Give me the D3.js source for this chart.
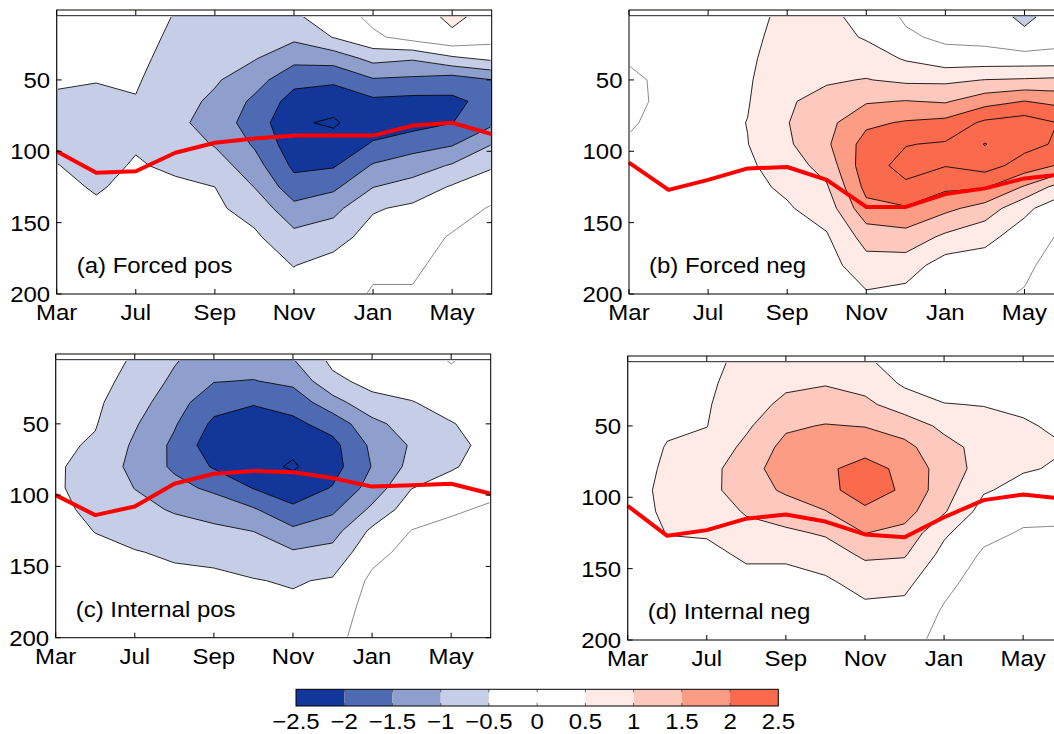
<!DOCTYPE html>
<html><head><meta charset="utf-8">
<script src="https://cdn.jsdelivr.net/npm/d3@7"></script>
<style>
body{margin:0;background:#fff}
svg{display:block}
text{font-family:"Liberation Sans",Arial,Helvetica,sans-serif;fill:#000}
</style>
</head><body>
<svg id="chart" width="1054" height="734"></svg>
<script>
// ---------------- data ----------------
const monthTickPos = [0, 2, 4, 6, 8, 10];
const monthTickLabels = ["Mar", "Jul", "Sep", "Nov", "Jan", "May"];
const depthTicks = [50, 100, 150, 200];
const depths = [5, 20, 35, 50, 65, 80, 95, 110, 125, 140, 160, 180, 200];
const levels = [-3, -2.5, -2, -1.5, -1, -0.5, 0, 0.5, 1, 1.5, 2, 2.5, 3];
const colorbarTicks = [-2.5, -2, -1.5, -1, -0.5, 0, 0.5, 1, 1.5, 2, 2.5];
const bandColors = ["#12369a", "#4e6ab3", "#8e9ecd", "#c6cde6", "#ffffff",
                    "#ffffff", "#feebe7", "#fdc9be", "#fc9c85", "#fa6a4c"];
const panelLabels = ["(a) Forced pos", "(b) Forced neg", "(c) Internal pos", "(d) Internal neg"];

// anomaly values: one array per month (12), each listing the 13 depths above
const forcedPos = [
  [-0.2, -0.3, -0.38, -0.46, -0.55, -0.62, -0.58, -0.49, -0.42, -0.36, -0.3, -0.25, -0.2],
  [-0.3, -0.38, -0.44, -0.49, -0.56, -0.62, -0.64, -0.6, -0.53, -0.45, -0.36, -0.28, -0.2],
  [-0.3, -0.35, -0.4, -0.46, -0.52, -0.56, -0.53, -0.47, -0.42, -0.38, -0.3, -0.25, -0.2],
  [-0.52, -0.58, -0.65, -0.72, -0.8, -0.85, -0.72, -0.56, -0.44, -0.38, -0.3, -0.25, -0.2],
  [-0.6, -0.7, -0.82, -0.94, -1.1, -1.26, -1.04, -0.75, -0.5, -0.42, -0.33, -0.26, -0.2],
  [-0.6, -0.78, -0.97, -1.3, -1.6, -1.7, -1.56, -1.3, -1.01, -0.68, -0.42, -0.32, -0.25],
  [-0.55, -0.9, -1.35, -1.85, -2.2, -2.45, -2.3, -2.1, -1.8, -1.35, -0.85, -0.51, -0.35],
  [-0.3, -0.48, -1.3, -1.9, -2.35, -2.55, -2.35, -2.05, -1.6, -1.15, -0.7, -0.32, -0.25],
  [0.15, -0.1, -0.85, -1.55, -2.1, -2.25, -1.95, -1.45, -1.01, -0.55, -0.3, -0.1, 0.05],
  [0.3, 0.2, -0.95, -1.6, -2.15, -2.2, -1.7, -1.25, -0.8, -0.4, -0.25, -0.1, 0.05],
  [0.6, 0.42, -0.6, -1.75, -2.1, -2.01, -1.55, -0.95, -0.45, -0.25, 0.05, 0.2, 0.3],
  [0.35, 0.2, -0.4, -1.51, -1.85, -1.6, -1.01, -0.55, -0.25, 0.05, 0.2, 0.3, 0.35]
];
const forcedNeg = [
  [0.2, 0.15, 0.05, -0.1, -0.12, -0.05, 0.05, 0.15, 0.2, 0.25, 0.2, 0.15, 0.1],
  [0.2, 0.2, 0.15, 0.12, 0.12, 0.15, 0.2, 0.25, 0.3, 0.3, 0.25, 0.2, 0.15],
  [0.3, 0.3, 0.3, 0.3, 0.3, 0.32, 0.35, 0.35, 0.35, 0.3, 0.25, 0.2, 0.15],
  [0.3, 0.35, 0.4, 0.44, 0.47, 0.51, 0.49, 0.42, 0.38, 0.32, 0.25, 0.2, 0.15],
  [0.65, 0.72, 0.8, 0.88, 0.95, 0.98, 0.92, 0.75, 0.58, 0.45, 0.3, 0.22, 0.15],
  [0.6, 0.7, 0.82, 0.95, 1.15, 1.35, 1.42, 1.2, 0.95, 0.72, 0.45, 0.3, 0.2],
  [0.35, 0.45, 0.75, 1.02, 1.45, 1.9, 2.2, 2.3, 2.15, 1.85, 1.2, 0.8, 0.45],
  [-0.08, 0.08, 0.45, 0.9, 1.52, 2.05, 2.48, 2.65, 2.42, 1.95, 1.3, 0.75, 0.35],
  [-0.3, -0.1, 0.2, 0.9, 1.45, 2.15, 2.55, 2.52, 2.1, 1.62, 0.9, 0.25, 0.15],
  [-0.3, -0.15, 0.2, 1.01, 1.8, 2.6, 3.02, 2.7, 2.05, 1.3, 0.62, 0.3, 0.12],
  [-0.6, -0.4, 0.2, 1.05, 2.01, 2.75, 2.65, 2.3, 1.45, 0.6, 0.3, 0.12, -0.04],
  [-0.3, -0.2, 0.2, 1.1, 1.85, 2.45, 2.4, 1.9, 0.7, 0.2, -0.1, -0.3, -0.4]
];
const internalPos = [
  [-0.2, -0.25, -0.3, -0.35, -0.4, -0.45, -0.45, -0.4, -0.35, -0.3, -0.25, -0.2, -0.15],
  [-0.3, -0.35, -0.42, -0.47, -0.56, -0.65, -0.66, -0.6, -0.51, -0.42, -0.34, -0.27, -0.2],
  [-0.55, -0.65, -0.78, -0.95, -1.08, -1.15, -1.01, -0.85, -0.65, -0.48, -0.38, -0.3, -0.22],
  [-0.95, -1.1, -1.3, -1.45, -1.6, -1.58, -1.35, -1.05, -0.8, -0.56, -0.4, -0.3, -0.22],
  [-1.3, -1.48, -1.8, -2.1, -2.3, -2.05, -1.6, -1.2, -0.9, -0.6, -0.42, -0.32, -0.25],
  [-1.25, -1.52, -1.95, -2.3, -2.45, -2.35, -2.02, -1.45, -1.01, -0.72, -0.48, -0.35, -0.27],
  [-1.02, -1.38, -1.8, -2.12, -2.4, -2.55, -2.3, -1.9, -1.4, -0.95, -0.54, -0.4, -0.3],
  [-0.38, -0.62, -1.2, -1.8, -2.15, -2.2, -1.97, -1.6, -1.2, -0.85, -0.45, -0.28, -0.15],
  [-0.15, -0.35, -0.65, -1.15, -1.4, -1.48, -1.3, -0.9, -0.4, -0.15, 0.1, 0.2, 0.25],
  [-0.2, -0.3, -0.52, -0.75, -0.95, -0.85, -0.51, -0.22, 0.01, 0.15, 0.25, 0.3, 0.3],
  [0.03, -0.12, -0.35, -0.52, -0.62, -0.55, -0.3, -0.05, 0.1, 0.2, 0.3, 0.35, 0.35],
  [-0.2, -0.25, -0.3, -0.35, -0.38, -0.3, -0.1, 0.05, 0.15, 0.22, 0.3, 0.35, 0.35]
];
const internalNeg = [
  [0.1, 0.15, 0.2, 0.25, 0.3, 0.35, 0.4, 0.38, 0.33, 0.28, 0.22, 0.18, 0.15],
  [0.2, 0.28, 0.36, 0.45, 0.52, 0.55, 0.56, 0.55, 0.51, 0.42, 0.33, 0.25, 0.2],
  [0.42, 0.44, 0.46, 0.49, 0.65, 0.83, 0.85, 0.7, 0.53, 0.42, 0.32, 0.25, 0.2],
  [0.58, 0.65, 0.78, 0.92, 1.12, 1.27, 1.25, 1.05, 0.82, 0.55, 0.4, 0.3, 0.22],
  [0.75, 0.9, 1.12, 1.42, 1.65, 1.78, 1.58, 1.22, 0.92, 0.56, 0.38, 0.3, 0.22],
  [0.72, 0.97, 1.2, 1.53, 1.8, 1.93, 1.85, 1.48, 1.05, 0.78, 0.4, 0.32, 0.25],
  [0.6, 0.85, 1.1, 1.48, 1.85, 2.15, 2.25, 1.9, 1.51, 1.08, 0.7, 0.35, 0.3],
  [0.2, 0.42, 0.78, 1.25, 1.65, 1.9, 1.92, 1.7, 1.35, 1.05, 0.62, 0.35, 0.18],
  [0.1, 0.25, 0.52, 0.9, 1.15, 1.25, 1.22, 1.05, 0.58, 0.35, 0.12, -0.05, -0.15],
  [0.2, 0.3, 0.48, 0.7, 0.85, 0.82, 0.55, 0.3, 0.12, -0.06, -0.2, -0.3, -0.3],
  [0.25, 0.3, 0.42, 0.55, 0.65, 0.54, 0.35, 0.12, -0.04, -0.15, -0.25, -0.3, -0.3],
  [0.2, 0.25, 0.32, 0.42, 0.52, 0.45, 0.3, 0.1, -0.05, -0.15, -0.25, -0.3, -0.3]
];
// red line (depth, m) for each month
const lineForcedPos = [100, 115, 114, 101, 94, 91, 89, 89, 89, 82, 80, 88];
const lineForcedNeg = [108, 127, 120, 112, 111, 120, 139, 139, 130, 126, 119, 116];
const lineInternalPos = [100, 114, 108, 92, 85, 83, 84, 88, 94, 93, 92, 99];
const lineInternalNeg = [106, 127, 123, 115, 112, 117, 126, 128, 114, 102, 98, 101];

// ---------------- drawing ----------------
const svg = d3.select("#chart");
const fill = d3.scaleThreshold().domain(colorbarTicks.slice(1, -1)).range(bandColors);
const FONT = 22, SX = 1.09;

function addText(parent, tx, ty, str, anchor) {
  return parent.append("text")
    .attr("transform", `translate(${tx},${ty}) scale(${SX},1)`)
    .attr("text-anchor", anchor || "start")
    .attr("font-size", FONT)
    .text(str);
}

const panels = [
  {label: panelLabels[0], data: forcedPos, line: lineForcedPos, left: 56.7, top: 10, bottom: 294},
  {label: panelLabels[1], data: forcedNeg, line: lineForcedNeg, left: 629, top: 10, bottom: 294},
  {label: panelLabels[2], data: internalPos, line: lineInternalPos, left: 55.7, top: 354, bottom: 637.7},
  {label: panelLabels[3], data: internalNeg, line: lineInternalNeg, left: 627.7, top: 356, bottom: 640}
];

panels.forEach((p, k) => {
  const nx = p.data.length, ny = depths.length;
  const x = d3.scaleLinear().domain([0, nx - 1]).range([p.left, p.left + 435]);
  const y = d3.scaleLinear().domain([1, 200]).range([p.top, p.bottom]);
  const depthAt = d3.scaleLinear().domain(d3.range(ny)).range(depths);
  const grid = new Array(nx * ny);
  for (let j = 0; j < ny; j++) for (let i = 0; i < nx; i++) grid[j * nx + i] = p.data[i][j];

  const proj = d3.geoTransform({
    point(px, py) {
      const gi = Math.max(0, Math.min(nx - 1, px - 0.5));
      const gj = Math.max(0, Math.min(ny - 1, py - 0.5));
      this.stream.point(x(gi), y(depthAt(gj)));
    }
  });
  const path = d3.geoPath(proj);
  const cs = d3.contours().size([nx, ny]).thresholds(levels)(grid);

  const g = svg.append("g");
  const clipId = "clip" + k, lineClipId = "lclip" + k;
  const x0 = x(0), x1 = x(nx - 1), yTop = y(depths[0]), yBot = y(200);
  g.append("clipPath").attr("id", clipId).append("rect")
    .attr("x", x0).attr("y", yTop).attr("width", x1 - x0).attr("height", yBot - yTop);
  g.append("clipPath").attr("id", lineClipId).append("rect")
    .attr("x", x0 + 1.2).attr("y", yTop + 1.2).attr("width", x1 - x0 - 2.4).attr("height", yBot - yTop - 2.4);

  const fills = g.append("g").attr("clip-path", `url(#${clipId})`);
  fills.append("rect").attr("x", x0).attr("y", yTop).attr("width", x1 - x0).attr("height", yBot - yTop)
    .attr("fill", fill(-10));
  fills.selectAll("path").data(cs).join("path")
    .attr("d", path)
    .attr("fill", d => fill(d.value + 0.25))
    .attr("stroke", d => fill(d.value + 0.25))
    .attr("stroke-width", 0.3);

  const lines = g.append("g").attr("clip-path", `url(#${lineClipId})`);
  lines.selectAll("path").data(cs).join("path")
    .attr("d", path)
    .attr("fill", "none")
    .attr("stroke", d => d.value === 0 ? "#3a3a3a" : "#000")
    .attr("stroke-width", d => d.value === 0 ? 0.6 : 0.85)
    .attr("stroke-linejoin", "round");

  // top line of data (first depth)
  g.append("line").attr("x1", x0).attr("x2", x1).attr("y1", yTop).attr("y2", yTop)
    .attr("stroke", "#000").attr("stroke-width", 0.8);

  // red line
  g.append("path").datum(p.line)
    .attr("d", d3.line().x((d, i) => x(i)).y(d => y(d)))
    .attr("fill", "none").attr("stroke", "#ff0000").attr("stroke-width", 4)
    .attr("stroke-linejoin", "round").attr("stroke-linecap", "butt");

  // frame
  g.append("rect").attr("x", x0).attr("y", y(1)).attr("width", x1 - x0).attr("height", yBot - y(1))
    .attr("fill", "none").attr("stroke", "#000").attr("stroke-width", 1);

  // ticks (inward)
  const tl = 5;
  monthTickPos.forEach(m => {
    g.append("line").attr("x1", x(m)).attr("x2", x(m)).attr("y1", yBot).attr("y2", yBot - tl).attr("stroke", "#000");
    g.append("line").attr("x1", x(m)).attr("x2", x(m)).attr("y1", y(1)).attr("y2", y(1) + tl).attr("stroke", "#000");
  });
  depthTicks.forEach(dv => {
    g.append("line").attr("x1", x0).attr("x2", x0 + tl).attr("y1", y(dv)).attr("y2", y(dv)).attr("stroke", "#000");
    g.append("line").attr("x1", x1).attr("x2", x1 - tl).attr("y1", y(dv)).attr("y2", y(dv)).attr("stroke", "#000");
  });

  // tick labels
  monthTickPos.forEach((m, i) => addText(g, x(m), yBot + 26, monthTickLabels[i], "middle"));
  depthTicks.forEach(dv => addText(g, x0 - 6.5, y(dv) + 8, dv, "end"));

  addText(g, x0 + 20, yBot - 21, p.label, "start");
});

// ---------------- colorbar ----------------
const cb = svg.append("g");
const cx = d3.scaleLinear().domain([-2.5, 2.5]).range([296, 778.3]);
const cbTop = 689.3, cbBot = 706;
d3.pairs(colorbarTicks).forEach(([a, b], i) => {
  cb.append("rect").attr("x", cx(a)).attr("y", cbTop).attr("width", cx(b) - cx(a)).attr("height", cbBot - cbTop)
    .attr("fill", bandColors[i]);
});
colorbarTicks.slice(1, -1).forEach(t => {
  cb.append("line").attr("x1", cx(t)).attr("x2", cx(t)).attr("y1", cbTop).attr("y2", cbTop + 3).attr("stroke", "#444").attr("stroke-width", 0.8);
  cb.append("line").attr("x1", cx(t)).attr("x2", cx(t)).attr("y1", cbBot).attr("y2", cbBot - 3).attr("stroke", "#444").attr("stroke-width", 0.8);
});
cb.append("rect").attr("x", cx(-2.5)).attr("y", cbTop).attr("width", cx(2.5) - cx(-2.5)).attr("height", cbBot - cbTop)
  .attr("fill", "none").attr("stroke", "#000").attr("stroke-width", 1);
colorbarTicks.forEach(t => {
  addText(cb, cx(t), 729, t < 0 ? "\u2212" + Math.abs(t) : String(t), "middle");
});
</script>
</body></html>
